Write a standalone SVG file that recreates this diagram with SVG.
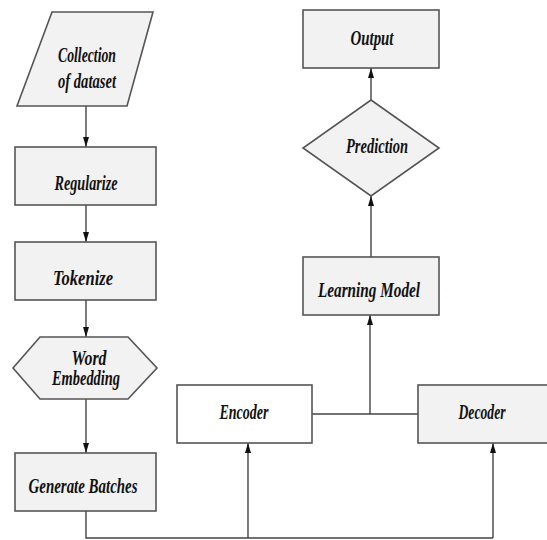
<svg xmlns="http://www.w3.org/2000/svg" width="547" height="540" viewBox="0 0 547 540">
<defs>
<marker id="ah" markerUnits="userSpaceOnUse" markerWidth="10" markerHeight="6" refX="10" refY="3" orient="auto">
<path d="M0,0 L10,3 L0,6 z" fill="#111"/>
</marker>
<style>
.shape{fill:#f2f2f2;stroke:#555;stroke-width:1.6}
.white{fill:#fff}
.t{font-family:"Liberation Serif","Times New Roman",serif;font-style:italic;font-weight:bold;font-size:20px;fill:#111;text-anchor:middle}
.c{stroke:#444;stroke-width:1.4;fill:none}
.a{marker-end:url(#ah)}
</style>
</defs>
<rect width="547" height="540" fill="#fff"/>
<g id="connectors">
<line class="c a" x1="86" y1="106" x2="86" y2="147"/>
<line class="c a" x1="86" y1="205" x2="86" y2="242"/>
<line class="c a" x1="86" y1="300" x2="86" y2="337"/>
<line class="c a" x1="86" y1="399" x2="86" y2="453"/>
<path class="c" d="M86,511 V538 H493"/>
<line class="c a" x1="248" y1="538" x2="248" y2="443"/>
<line class="c a" x1="493" y1="538" x2="493" y2="443"/>
<line class="c" x1="312" y1="414" x2="418" y2="414"/>
<line class="c a" x1="370" y1="414" x2="370" y2="315"/>
<line class="c a" x1="371" y1="257" x2="371" y2="196"/>
<line class="c a" x1="371" y1="100" x2="371" y2="68"/>
</g>
<g id="collection">
<polygon class="shape" points="52,12 153,12 127,106 17,106"/>
<text class="t" x="87" y="62" textLength="58" lengthAdjust="spacingAndGlyphs">Collection</text>
<text class="t" x="87" y="88" textLength="58" lengthAdjust="spacingAndGlyphs">of dataset</text>
</g>
<g id="regularize">
<rect class="shape" x="15" y="147" width="141" height="58"/>
<text class="t" x="86" y="190" textLength="63" lengthAdjust="spacingAndGlyphs">Regularize</text>
</g>
<g id="tokenize">
<rect class="shape" x="15" y="242" width="141" height="58"/>
<text class="t" x="83" y="285" textLength="60" lengthAdjust="spacingAndGlyphs">Tokenize</text>
</g>
<g id="word-embedding">
<polygon class="shape" points="40,337 128,337 157,368 128,399 40,399 13,368"/>
<text class="t" x="89" y="365" textLength="35" lengthAdjust="spacingAndGlyphs">Word</text>
<text class="t" x="86" y="385" textLength="68" lengthAdjust="spacingAndGlyphs">Embedding</text>
</g>
<g id="generate-batches">
<rect class="shape" x="15" y="453" width="141" height="58"/>
<text class="t" x="83" y="493" textLength="109" lengthAdjust="spacingAndGlyphs">Generate Batches</text>
</g>
<g id="encoder">
<rect class="shape white" x="177" y="385" width="135" height="58"/>
<text class="t" x="244" y="419" textLength="49" lengthAdjust="spacingAndGlyphs">Encoder</text>
</g>
<g id="decoder">
<rect class="shape" x="418" y="385" width="140" height="58"/>
<text class="t" x="482" y="419" textLength="47" lengthAdjust="spacingAndGlyphs">Decoder</text>
</g>
<g id="learning-model">
<rect class="shape" x="303" y="257" width="136" height="58"/>
<text class="t" x="369" y="297" textLength="102" lengthAdjust="spacingAndGlyphs">Learning Model</text>
</g>
<g id="prediction">
<polygon class="shape" points="371,100 439,148 371,196 303,148"/>
<text class="t" x="377" y="153" textLength="62" lengthAdjust="spacingAndGlyphs">Prediction</text>
</g>
<g id="output">
<rect class="shape" x="303" y="10" width="136" height="58"/>
<text class="t" x="372" y="45" textLength="43" lengthAdjust="spacingAndGlyphs">Output</text>
</g>
</svg>
